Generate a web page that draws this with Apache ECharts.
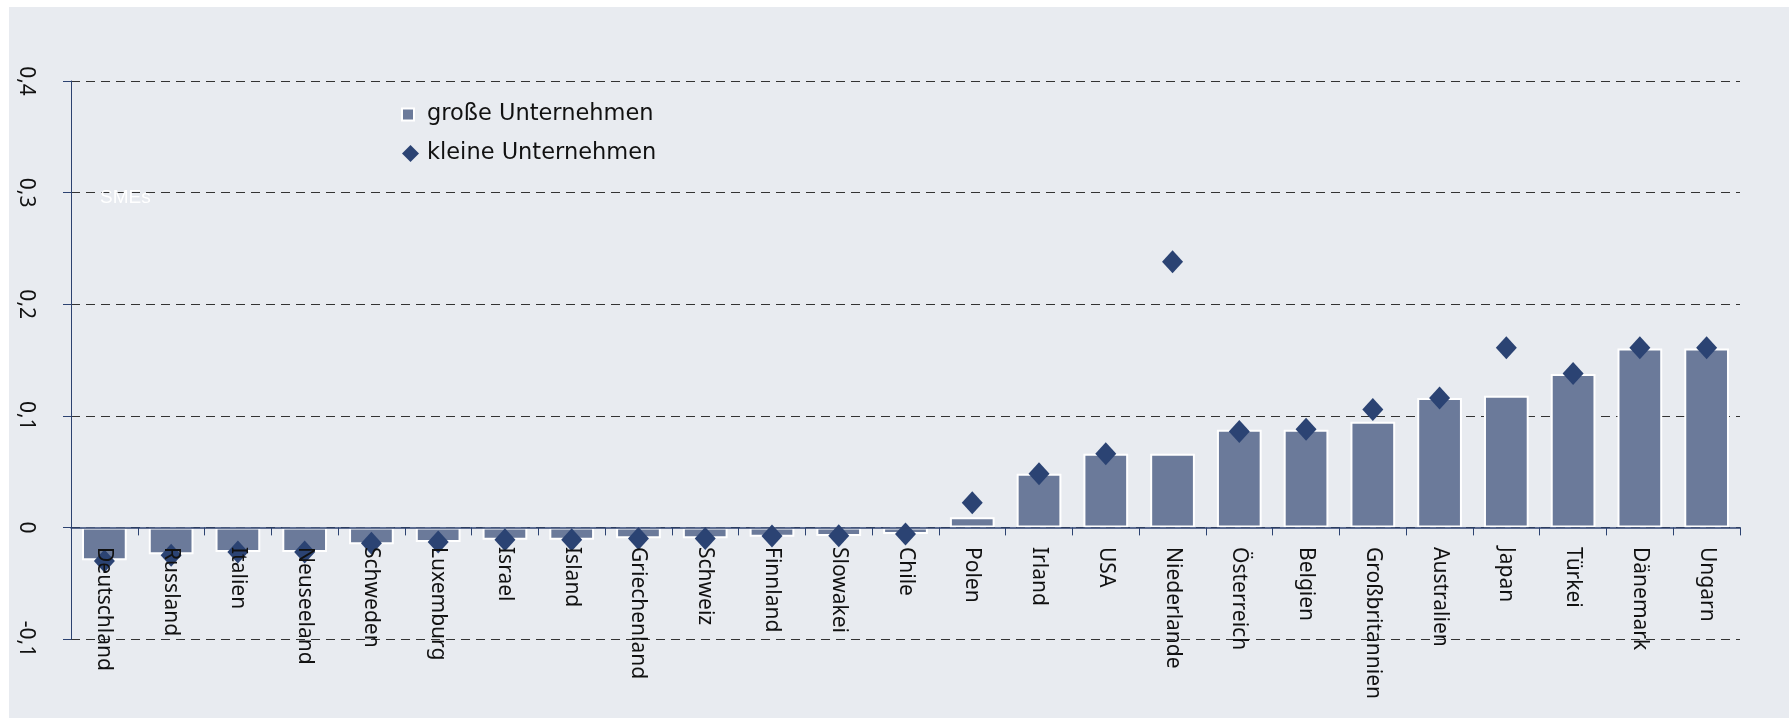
<!DOCTYPE html>
<html>
<head>
<meta charset="utf-8">
<script src="https://cdn.jsdelivr.net/npm/echarts@6/dist/echarts.min.js"></script>
<style>
html,body{margin:0;padding:0;background:#ffffff;}
#chart{width:1789px;height:718px;}
</style>
</head>
<body>
<div id="chart"></div>
<script>
const categories = ["Deutschland","Russland","Italien","Neuseeland","Schweden","Luxemburg","Israel","Island","Griechenland","Schweiz","Finnland","Slowakei","Chile","Polen","Irland","USA","Niederlande","Österreich","Belgien","Großbritannien","Australien","Japan","Türkei","Dänemark","Ungarn"];
const grosseUnternehmen = [-0.0295,-0.024,-0.022,-0.022,-0.015,-0.013,-0.011,-0.011,-0.0098,-0.0098,-0.0083,-0.0077,-0.006,0.009,0.048,0.066,0.066,0.0875,0.0875,0.0946,0.116,0.118,0.1375,0.1604,0.1604];
const kleineUnternehmen = [-0.030,-0.025,-0.022,-0.022,-0.0143,-0.013,-0.011,-0.011,-0.010,-0.010,-0.0077,-0.0074,-0.006,0.022,0.048,0.066,0.238,0.086,0.088,0.1056,0.116,0.161,0.138,0.161,0.161];
const yTicks = {min: -0.1, max: 0.4, interval: 0.1};
const seriesNames = ["große Unternehmen", "kleine Unternehmen"];
const noteText = "SMEs";

const FONT = "'Noto Sans', 'Open Sans', sans-serif";
const LEGEND_FONT = "'DejaVu Sans', 'Noto Sans', sans-serif";
const chart = echarts.init(document.getElementById('chart'), null, {renderer: 'canvas'});
chart.setOption({
  animation: false,
  backgroundColor: 'transparent',
  graphic: [
    {type: 'rect', z: -10, silent: true, shape: {x: 9, y: 7, width: 1780, height: 711}, style: {fill: '#e8ebf0'}},
    {type: 'text', z: 5, left: 100, top: 188, style: {text: noteText, fill: '#ffffff', font: "19px 'Liberation Sans', Arial, sans-serif"}}
  ],
  grid: {left: 71, right: 49, top: 81, bottom: 79, containLabel: false, outerBoundsMode: 'none'},
  legend: [
    {
      data: [{name: seriesNames[0], icon: 'rect'}],
      left: 396, top: 98, orient: 'vertical',
      itemWidth: 12, itemHeight: 12,
      textStyle: {fontFamily: LEGEND_FONT, fontSize: 22.5, color: '#111', padding: [0, 0, 0, 8]}
    },
    {
      data: [{name: seriesNames[1], icon: 'diamond'}],
      left: 397, top: 137, orient: 'vertical',
      itemWidth: 17, itemHeight: 17,
      textStyle: {fontFamily: LEGEND_FONT, fontSize: 22.5, color: '#111', padding: [0, 0, 0, 3]}
    }
  ],
  xAxis: {
    type: 'category',
    data: categories,
    z: 10,
    axisLine: {onZero: true, lineStyle: {color: '#2c4270', width: 1.5}},
    axisTick: {show: true, inside: false, length: 8, alignWithLabel: false, lineStyle: {color: '#2c4270', width: 1}},
    axisLabel: {rotate: -90, margin: -92, interval: 0, fontFamily: FONT, fontSize: 21, color: '#111'},
    splitLine: {show: false}
  },
  yAxis: {
    type: 'value',
    min: yTicks.min, max: yTicks.max, interval: yTicks.interval,
    axisLine: {show: true, lineStyle: {color: '#2c4270', width: 1}},
    axisTick: {show: true, length: 8, lineStyle: {color: '#2c4270'}},
    axisLabel: {
      rotate: -90, margin: 35, fontFamily: FONT, fontSize: 21, color: '#111',
      formatter: v => (Math.abs(v) < 1e-9 ? '0' : (Math.round(v * 10) / 10).toString().replace('.', ','))
    },
    splitLine: {
      show: true,
      lineStyle: {color: '#333333', type: [9, 6], width: 1.2}
    }
  },
  series: [
    {
      name: seriesNames[0],
      type: 'bar',
      data: grosseUnternehmen,
      barCategoryGap: '33%',
      itemStyle: {color: '#6b7a9a', borderColor: '#ffffff', borderWidth: 2},
      z: 2
    },
    {
      name: seriesNames[1],
      type: 'scatter',
      data: kleineUnternehmen,
      symbol: 'diamond',
      symbolSize: [21, 23],
      itemStyle: {color: '#2b4373', opacity: 1},
      z: 3
    }
  ]
});
</script>
</body>
</html>
